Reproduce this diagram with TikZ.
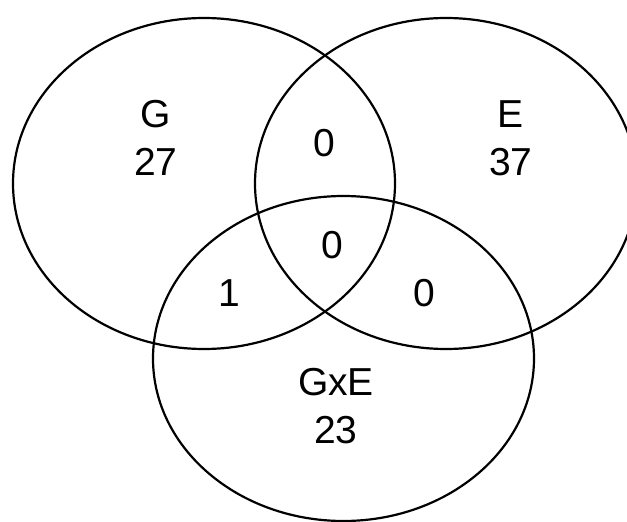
\documentclass[tikz,border=0pt]{standalone}
\usepackage{fontspec}
\setmainfont{Liberation Sans}
\begin{document}
\begin{tikzpicture}[x=1pt,y=-1pt,
  setline/.style={draw=black,line width=2.2pt},
  lbl/.style={inner sep=0pt,align=center,font=\fontsize{39}{48}\selectfont}]
\useasboundingbox (0,0) rectangle (627,522);
\draw[setline] (204,183.5) ellipse [x radius=191, y radius=165.5];
\draw[setline] (446,183.5) ellipse [x radius=191, y radius=165.5];
\draw[setline] (343.5,358.5) ellipse [x radius=190.5, y radius=162.5];
\node[lbl] (g) at (156,138) {G\\27};
\node[lbl] (e) at (511,138) {E\\37};
\node[lbl] (ge) at (324,143) {0};
\node[lbl] (all) at (332,245) {0};
\node[lbl] (gx) at (229,293) {1};
\node[lbl] (ex) at (424,293) {0};
\node[lbl] (x) at (336,406) {GxE\\23};
\end{tikzpicture}
\end{document}
